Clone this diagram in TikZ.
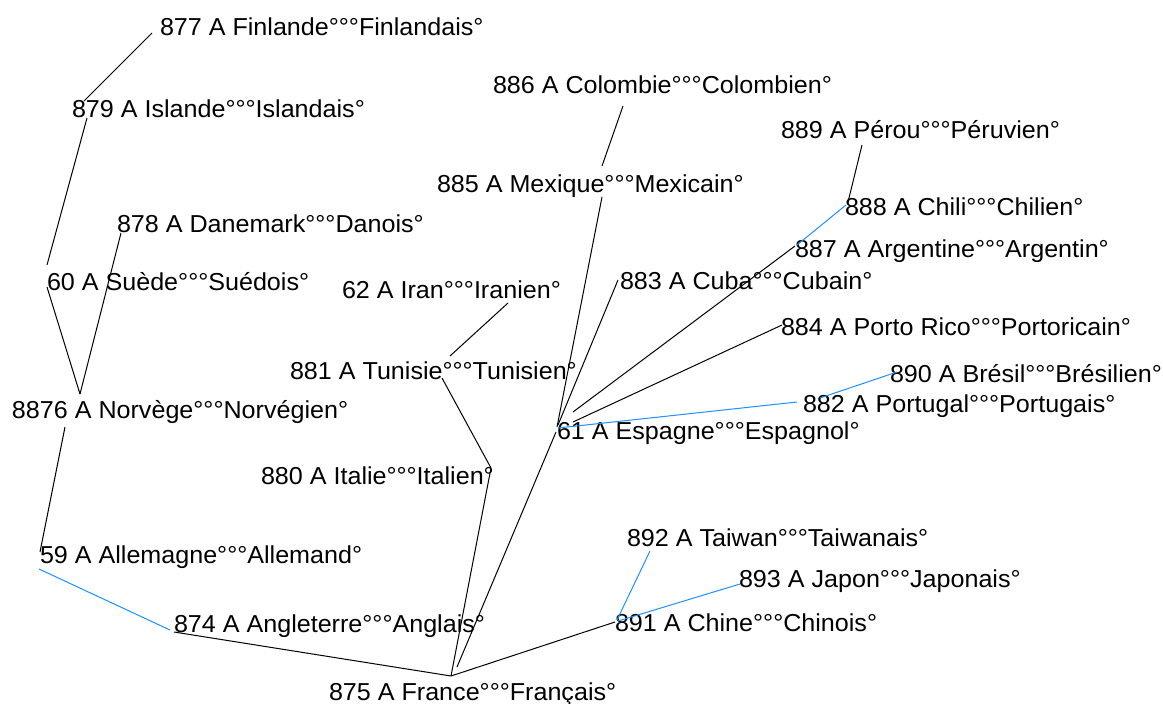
\documentclass[tikz,border=0pt]{standalone}
\usepackage{fontspec}
\setmainfont[FakeStretch=1.025]{Liberation Sans}
\definecolor{linkblue}{RGB}{30,144,255}
\tikzset{
  lbl/.style={anchor=base west, inner sep=0pt, outer sep=0pt, font=\fontsize{24.5}{28}\selectfont},
  link/.style={draw=black, line width=1pt},
  bluelink/.style={draw=linkblue, line width=1pt}
}
\begin{document}
\begin{tikzpicture}[x=1pt,y=-1pt]
\fill[white] (0,0) rectangle (1163,704);
\useasboundingbox (0,0) rectangle (1163,704);
% labels
\node[lbl] (fi) at (160,35) {877 A Finlande°°°Finlandais°};
\node[lbl] (co) at (493,93) {886 A Colombie°°°Colombien°};
\node[lbl] (is) at (72,117) {879 A Islande°°°Islandais°};
\node[lbl] (pe) at (781,138) {889 A Pérou°°°Péruvien°};
\node[lbl] (me) at (437,192) {885 A Mexique°°°Mexicain°};
\node[lbl] (ch) at (845,215) {888 A Chili°°°Chilien°};
\node[lbl] (da) at (117,232) {878 A Danemark°°°Danois°};
\node[lbl] (ar) at (795,257) {887 A Argentine°°°Argentin°};
\node[lbl] (su) at (47,290) {60 A Suède°°°Suédois°};
\node[lbl] (cu) at (620,289) {883 A Cuba°°°Cubain°};
\node[lbl] (ir) at (342,298) {62 A Iran°°°Iranien°};
\node[lbl] (pr) at (781,335) {884 A Porto Rico°°°Portoricain°};
\node[lbl] (tu) at (290,379) {881 A Tunisie°°°Tunisien°};
\node[lbl] (br) at (890,382) {890 A Brésil°°°Brésilien°};
\node[lbl] (no) at (12,418) {8876 A Norvège°°°Norvégien°};
\node[lbl] (po) at (803,412) {882 A Portugal°°°Portugais°};
\node[lbl] (es) at (557,439) {61 A Espagne°°°Espagnol°};
\node[lbl] (it) at (261,484) {880 A Italie°°°Italien°};
\node[lbl] (ta) at (627,546) {892 A Taiwan°°°Taiwanais°};
\node[lbl] (al) at (40,563) {59 A Allemagne°°°Allemand°};
\node[lbl] (ja) at (739,587) {893 A Japon°°°Japonais°};
\node[lbl] (an) at (174,632) {874 A Angleterre°°°Anglais°};
\node[lbl] (cn) at (615,631) {891 A Chine°°°Chinois°};
\node[lbl] (fr) at (329,700) {875 A France°°°Français°};
% connector ends
\coordinate (fi-a) at (152,33);
\coordinate (is-a) at (84,101);
\coordinate (is-b) at (87,118);
\coordinate (su-a) at (47,265);
\coordinate (su-b) at (47,287);
\coordinate (da-a) at (121,233);
\coordinate (no-a) at (80,394);
\coordinate (no-b) at (65,427);
\coordinate (al-a) at (40,552);
\coordinate (al-b) at (39,569);
\coordinate (an-a) at (170,630);
\coordinate (an-b) at (174,632);
\coordinate (fr-a) at (451,676);
\coordinate (fr-b) at (457,667);
\coordinate (it-a) at (491,468);
\coordinate (tu-a) at (442,378);
\coordinate (tu-b) at (450,356);
\coordinate (ir-a) at (508,303);
\coordinate (es-a) at (556,432);
\coordinate (es-b) at (557,427);
\coordinate (me-a) at (602,197);
\coordinate (me-b) at (602,166);
\coordinate (co-a) at (623,106);
\coordinate (es-c) at (558,425);
\coordinate (cu-a) at (618,280);
\coordinate (es-d) at (573,412);
\coordinate (ar-a) at (795,246);
\coordinate (ar-b) at (797,245);
\coordinate (ch-a) at (846,205);
\coordinate (ch-b) at (848,202);
\coordinate (pe-a) at (862,145);
\coordinate (es-e) at (573,422);
\coordinate (pr-a) at (782,325);
\coordinate (es-f) at (558,428);
\coordinate (po-a) at (797,402);
\coordinate (po-b) at (820,398);
\coordinate (br-a) at (897,372);
\coordinate (cn-a) at (615,622);
\coordinate (cn-b) at (617,620);
\coordinate (ta-a) at (650,551);
\coordinate (cn-c) at (618,621);
\coordinate (ja-a) at (740,584);
% connectors
\draw[link] (fi-a) -- (is-a);
\draw[link] (is-b) -- (su-a);
\draw[link] (su-b) -- (no-a);
\draw[link] (da-a) -- (no-a);
\draw[link] (no-b) -- (al-a);
\draw[bluelink] (al-b) -- (an-a);
\draw[link] (an-b) -- (fr-a);
\draw[link] (fr-a) -- (it-a);
\draw[link] (it-a) -- (tu-a);
\draw[link] (tu-b) -- (ir-a);
\draw[link] (fr-b) -- (es-a);
\draw[link] (es-b) -- (me-a);
\draw[link] (me-b) -- (co-a);
\draw[link] (es-c) -- (cu-a);
\draw[link] (es-d) -- (ar-a);
\draw[bluelink] (ar-b) -- (ch-a);
\draw[link] (ch-b) -- (pe-a);
\draw[link] (es-e) -- (pr-a);
\draw[bluelink] (es-f) -- (po-a);
\draw[bluelink] (po-b) -- (br-a);
\draw[link] (fr-a) -- (cn-a);
\draw[bluelink] (cn-b) -- (ta-a);
\draw[bluelink] (cn-c) -- (ja-a);
\end{tikzpicture}
\end{document}
